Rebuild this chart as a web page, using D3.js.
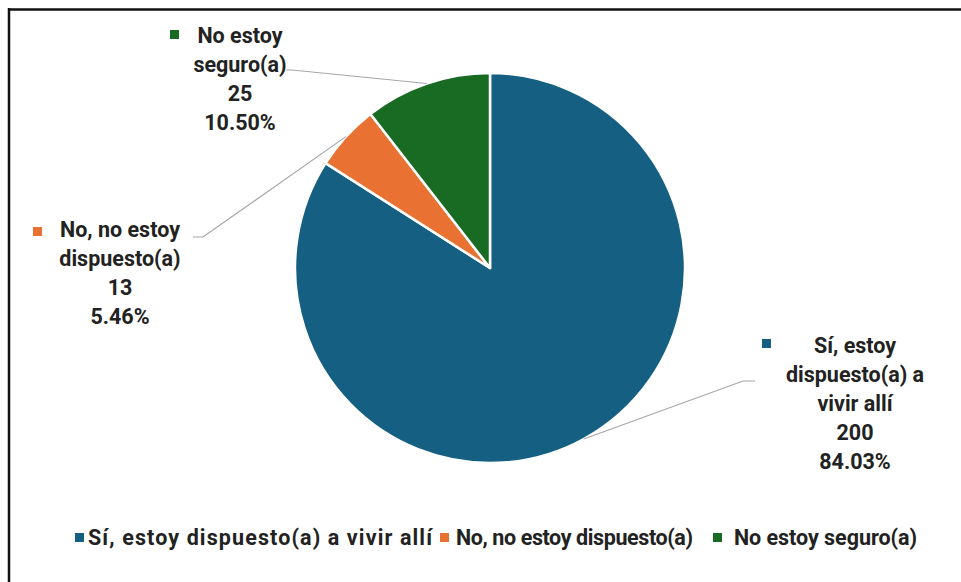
<!DOCTYPE html>
<html>
<head>
<meta charset="utf-8">
<script src="https://cdn.jsdelivr.net/npm/d3@7"></script>
<style>
  html, body { margin: 0; padding: 0; background: #fff; }
  svg { display: block; }
  text { font-family: "Roboto", "Liberation Sans", sans-serif; font-weight: bold; fill: #222; }
</style>
</head>
<body>
<svg id="chart" width="961" height="582"></svg>
<script>
// ---- data ----
const categories = ["Sí, estoy dispuesto(a) a vivir allí", "No, no estoy dispuesto(a)", "No estoy seguro(a)"];
const values = [200, 13, 25];
const percentLabels = ["84.03%", "5.46%", "10.50%"];
const labelLines = [
  ["Sí, estoy", "dispuesto(a) a", "vivir allí"],
  ["No, no estoy", "dispuesto(a)"],
  ["No estoy", "seguro(a)"]
];
const colors = ["#156082", "#E97132", "#196B24"];

// ---- layout (not data) ----
const W = 961, H = 582;
const cx = 490, cy = 268, R = 195;
const fontSize = 21.5, lineH = 29;
const labelLayout = [
  { x: 855, y: 353, sqX: 762, sqY: 339, elbow: [743, 381], end: [755, 381] },
  { x: 120, y: 237, sqX: 33, sqY: 227, elbow: [203, 237], end: [193, 237] },
  { x: 240, y: 43, sqX: 170, sqY: 30, elbow: [292, 70], end: [286, 70] }
];
const legendLayout = [
  { sq: 75, tx: 88, len: 344 },
  { sq: 440, tx: 456, len: 237 },
  { sq: 713, tx: 734, len: 183 }
];

const svg = d3.select("#chart");

// frame
svg.append("line").attr("x1", 8).attr("y1", 9.5).attr("x2", W).attr("y2", 9.5)
  .attr("stroke", "#111").attr("stroke-width", 2.5);
svg.append("line").attr("x1", 9).attr("y1", 8).attr("x2", 9).attr("y2", H)
  .attr("stroke", "#111").attr("stroke-width", 2.5);

const color = d3.scaleOrdinal().domain(categories).range(colors);
const pie = d3.pie().sort(null).value(d => d.value);
const data = categories.map((c, i) => ({ name: c, value: values[i], i }));
const arcs = pie(data);
const arc = d3.arc().innerRadius(0).outerRadius(R);

const g = svg.append("g").attr("transform", `translate(${cx},${cy})`);
g.selectAll("path.slice").data(arcs).join("path")
  .attr("class", "slice")
  .attr("d", arc)
  .attr("fill", d => color(d.data.name))
  .attr("stroke", "#fff")
  .attr("stroke-width", 2.5)
  .attr("stroke-linejoin", "round");

// leader lines & labels
arcs.forEach((a, i) => {
  const L = labelLayout[i];
  const mid = (a.startAngle + a.endAngle) / 2;
  const px = cx + R * Math.sin(mid), py = cy - R * Math.cos(mid);
  svg.append("polyline")
    .attr("points", [[px, py], L.elbow, L.end].map(p => p.join(",")).join(" "))
    .attr("fill", "none").attr("stroke", "#a6a6a6").attr("stroke-width", 1.2);

  svg.append("rect").attr("x", L.sqX).attr("y", L.sqY).attr("width", 9).attr("height", 9)
    .attr("fill", colors[i]);

  const lines = labelLines[i].concat([String(values[i]), percentLabels[i]]);
  const t = svg.append("text").attr("text-anchor", "middle").attr("font-size", fontSize);
  lines.forEach((ln, k) => {
    t.append("tspan").attr("x", L.x).attr("y", L.y + k * lineH).text(ln);
  });
});

// legend
const legendY = 545;
const leg = svg.append("g");
categories.forEach((c, i) => {
  const P = legendLayout[i];
  leg.append("rect").attr("x", P.sq).attr("y", legendY - 12).attr("width", 9).attr("height", 9)
    .attr("fill", color(c));
  leg.append("text").attr("x", P.tx).attr("y", legendY).attr("font-size", fontSize)
    .attr("textLength", P.len).attr("lengthAdjust", "spacing").text(c);
});
</script>
</body>
</html>
